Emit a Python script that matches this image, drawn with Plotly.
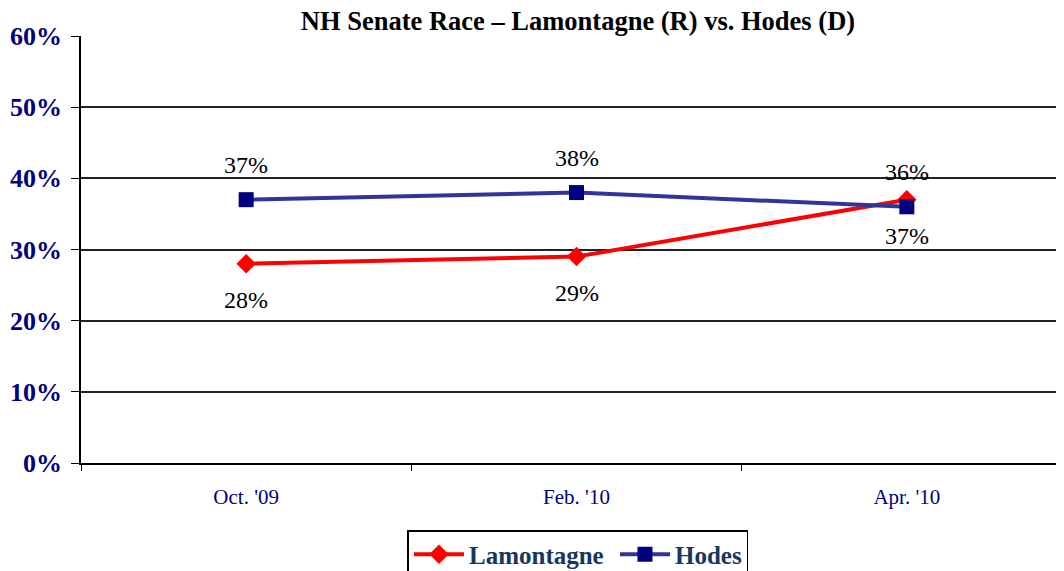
import plotly.graph_objects as go

polls = ["Oct. '09", "Feb. '10", "Apr. '10"]
lamontagne = [28, 29, 37]
hodes = [37, 38, 36]
# the source chart prints these labels (last pair looks swapped vs. the markers)
lamontagne_labels = ["28%", "29%", "37%"]
hodes_labels = ["37%", "38%", "36%"]
y_ticks = [0, 10, 20, 30, 40, 50, 60]

SERIF = "Liberation Serif, Times New Roman, serif"

fig = go.Figure()
fig.add_trace(go.Scatter(
    x=polls, y=lamontagne, name="<b>Lamontagne</b> ", mode="lines+markers",
    line=dict(color="#ff0000", width=4),
    marker=dict(symbol="diamond", size=15, color="#ff0000"),
))
fig.add_trace(go.Scatter(
    x=polls, y=hodes, name="<b>Hodes</b>", mode="lines+markers",
    line=dict(color="#333399", width=4),
    marker=dict(symbol="square", size=15, color="#000080"),
))

lbl_font = dict(family=SERIF, size=24, color="black")
for x, y, t in zip(polls, lamontagne, lamontagne_labels):
    fig.add_annotation(x=x, y=y, text=t, showarrow=False, yshift=-36, font=lbl_font)
for x, y, t in zip(polls, hodes, hodes_labels):
    fig.add_annotation(x=x, y=y, text=t, showarrow=False, yshift=35, font=lbl_font)

fig.update_layout(
    template="none",
    width=1064, height=571,
    margin=dict(l=73, r=0, t=28, b=116),
    plot_bgcolor="white", paper_bgcolor="white",
    font=dict(family=SERIF, color="black"),
    title=dict(text="<b>NH Senate Race – Lamontagne (R) vs. Hodes (D)</b>",
               xref="container", x=0.5357, xanchor="center",
               yref="container", y=0.978, yanchor="middle",
               font=dict(size=26.5, color="black", family=SERIF)),
    showlegend=True,
    legend=dict(orientation="h", xref="container", x=0.5357, xanchor="center",
                yref="container", y=0.0858, yanchor="top",
                bordercolor="black", borderwidth=1.5, bgcolor="white",
                font=dict(size=25, color="#17375e", family=SERIF),
                itemwidth=50, tracegroupgap=0),
)
fig.update_xaxes(
    type="category", range=[-0.5, 2.5], automargin=False,
    showgrid=False, showline=True, linecolor="black", linewidth=1.5,
    ticks="outside", tickson="boundaries", ticklen=6, tickcolor="black",
    tickfont=dict(size=21, color="#000080", family=SERIF),
    ticklabelstandoff=14,
)
fig.update_yaxes(
    range=[0, 60], tickvals=y_ticks, ticktext=[f"<b>{v}%</b>" for v in y_ticks],
    automargin=False,
    showgrid=True, gridcolor="#222222", gridwidth=1.5,
    showline=True, linecolor="black", linewidth=1.5,
    ticks="outside", ticklen=8, tickcolor="black",
    tickfont=dict(size=26, color="#000080", family=SERIF),
    ticklabelstandoff=4, zeroline=False,
)

fig.write_html("out.html")
